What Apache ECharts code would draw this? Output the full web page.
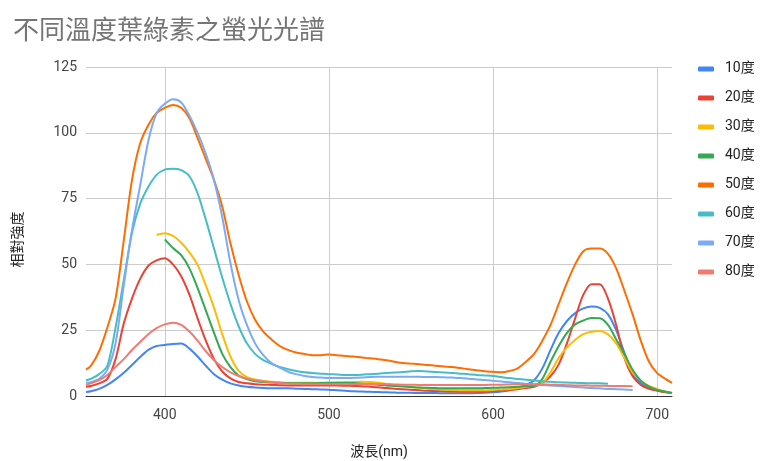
<!DOCTYPE html>
<html>
<head>
<meta charset="utf-8">
<script src="https://cdn.jsdelivr.net/npm/echarts@6/dist/echarts.min.js"></script>
<style>
  html, body { margin: 0; padding: 0; background: #fff; }
  #chart { width: 762px; height: 461px; }
</style>
</head>
<body>
<div id="chart"></div>
<script>
// 波長 (nm)
const wavelengths = [352, 355, 360, 365, 370, 375, 380, 385, 390, 395,
  400, 405, 410, 415, 420, 425, 430, 435, 440, 445,
  450, 455, 460, 465, 470, 475, 480, 485, 490, 495,
  500, 505, 510, 515, 520, 525, 530, 535, 540, 545,
  550, 555, 560, 565, 570, 575, 580, 585, 590, 595,
  600, 605, 610, 615, 620, 625, 630, 635, 640, 645,
  650, 655, 660, 665, 670, 675, 680, 685, 690, 695,
  700, 705, 709]

const seriesNames = ['10度', '20度', '30度', '40度', '50度', '60度', '70度', '80度']
const xTicks = [400, 500, 600, 700]

const t10 = [1.5, 1.8, 2.7, 4.2, 6.3, 8.8, 11.8, 14.8, 17.5, 19,
  19.4, 19.8, 19.9, 18, 15, 11.5, 8.3, 6.2, 4.8, 4,
  3.5, 3.2, 3, 2.9, 2.9, 2.9, 2.8, 2.7, 2.6, 2.5,
  2.4, 2.2, 2, 1.8, 1.7, 1.6, 1.5, 1.4, 1.3, 1.2,
  1.2, 1.1, 1.1, 1.1, 1, 1, 1, 1, 1.1, 1.2,
  1.4, 1.7, 2.2, 3, 4.2, 6, 10.5, 17.5, 24, 28.5,
  31.5, 33.3, 34, 33.5, 31, 25, 16.5, 8.5, 4.8, 3,
  2.2, 1.5, 1.1]

const t20 = [3.5, 3.8, 4.8, 6.5, 14, 27.5, 37, 44.5, 49.5, 51.5,
  52.3, 50, 45.5, 38.5, 29.5, 21, 14, 9.3, 6.7, 5.3,
  4.8, 4.5, 4.3, 4.2, 4.1, 4, 4, 4, 4, 4,
  4, 4, 3.9, 3.8, 3.7, 3.5, 3.3, 3, 2.8, 2.6,
  2.4, 2.2, 2, 1.9, 1.8, 1.7, 1.6, 1.6, 1.6, 1.6,
  1.8, 2, 2.3, 2.6, 3, 3.5, 5, 7.5, 12, 20,
  29.5, 38.5, 42.5, 42.5, 37, 27, 14.5, 7.5, 4.2, 2.7,
  2, 1.4, 1.1]

const t30 = [null, null, null, null, null, null, null, null, null, 61.2,
  61.8, 60.8, 58.2, 54.6, 49.8, 42, 33.5, 23.5, 15, 9.5,
  7.2, 6.3, 5.8, 5.4, 5.2, 5, 5, 5, 5, 5,
  5, 5.1, 5.2, 5.3, 5.4, 5.3, 5, 4.6, 4.2, 3.8,
  3.4, 3.1, 2.8, 2.6, 2.4, 2.3, 2.2, 2.2, 2.2, 2.2,
  2.3, 2.5, 2.7, 3, 3.5, 4.2, 5, 9, 14.5, 18.5,
  21.3, 23.5, 24.4, 24.7, 23.4, 20, 14.5, 9, 5.8, 3.8,
  2.6, 1.7, 1.1]

const t40 = [null, null, null, null, null, null, null, null, null, null,
  59.5, 56.2, 53.5, 48.5, 41, 32.5, 24, 16, 11, 7.8,
  6.4, 5.6, 5.3, 5.1, 5, 4.9, 4.8, 4.8, 4.8, 4.9,
  5, 5, 5, 4.9, 4.7, 4.5, 4.3, 4, 3.8, 3.6,
  3.4, 3.2, 3.1, 3, 2.9, 2.9, 2.9, 2.9, 2.9, 3,
  3.1, 3.2, 3.3, 3.5, 3.8, 3.8, 6.5, 13, 19, 24,
  27.2, 28.7, 29.6, 29.5, 27, 21.5, 16, 10, 5.8, 3.6,
  2.3, 1.6, 1.1]

const t50 = [10, 11.5, 17, 26, 37, 59, 82, 96, 103, 107.5,
  109.5, 110.6, 109.5, 105.5, 98, 90, 82, 72, 58, 46,
  36, 29, 24.5, 21.5, 19, 17.5, 16.5, 16, 15.5, 15.5,
  15.8, 15.5, 15.2, 15, 14.6, 14.3, 14, 13.6, 13, 12.5,
  12.3, 12.1, 11.8, 11.5, 11.2, 11, 10.6, 10.2, 9.8, 9.4,
  9.2, 9, 9.5, 10.5, 13, 16, 21, 27, 35, 43,
  50, 55, 56, 56, 54, 48.5, 40, 31, 21, 13,
  8.7, 6.5, 5]

const t60 = [6, 6.5, 8.3, 11.5, 26, 44, 62, 73, 79.5, 84,
  86, 86.3, 85.8, 83.5, 77, 67, 56, 45, 35, 26.5,
  20, 16, 13.6, 12.2, 11, 10.2, 9.5, 9, 8.7, 8.5,
  8.3, 8.2, 8, 8, 8.1, 8.3, 8.5, 8.7, 8.9, 9.1,
  9.4, 9.5, 9.3, 9.1, 8.9, 8.7, 8.5, 8.3, 8, 7.8,
  7.6, 7.2, 6.8, 6.5, 6.2, 5.9, 5.6, 5.4, 5.2, 5.1,
  5, 4.9, 4.8, 4.8, 4.7, null, null, null, null, null,
  null, null, null]

const t70 = [5, 5.2, 6.5, 10, 20, 42, 63, 80, 97, 107.5,
  111, 112.7, 111.5, 106.5, 100, 92, 82, 68, 50.5, 36.5,
  27, 20, 15.5, 12.5, 10.8, 9.2, 8.3, 7.6, 7.2, 7,
  6.8, 6.8, 6.8, 6.9, 7, 7.2, 7.3, 7.3, 7.3, 7.3,
  7.3, 7.3, 7.2, 7.2, 7.1, 7, 6.8, 6.6, 6.3, 6.1,
  5.8, 5.5, 5.2, 4.9, 4.6, 4.4, 4.2, 4, 3.8, 3.6,
  3.4, 3.2, 3, 2.9, 2.7, 2.6, 2.5, 2.3, null, null,
  null, null, null]

const t80 = [4.3, 4.8, 6, 8, 11, 14, 17.5, 20.5, 23.5, 25.8,
  27.2, 27.8, 27, 24.5, 21, 17, 13.6, 11, 9, 7.6,
  6.6, 6, 5.6, 5.2, 4.9, 4.7, 4.6, 4.5, 4.5, 4.5,
  4.5, 4.5, 4.5, 4.5, 4.6, 4.6, 4.6, 4.5, 4.4, 4.3,
  4.3, 4.2, 4.2, 4.2, 4.2, 4.2, 4.2, 4.2, 4.2, 4.2,
  4.3, 4.3, 4.4, 4.5, 4.5, 4.5, 4.4, 4.3, 4.2, 4.1,
  4, 4, 3.9, 3.9, 3.8, 3.8, 3.8, 3.7, null, null,
  null, null, null]

const allValues = [t10, t20, t30, t40, t50, t60, t70, t80]
const colors = ['#4285F4', '#EA4335', '#FBBC04', '#34A853', '#FF6D01', '#46BDC6', '#7BAAF7', '#F07B72']

const font = 'Roboto, "Noto Sans CJK TC", sans-serif'

const chart = echarts.init(document.getElementById('chart'))
const options = {
  color: colors,
  textStyle: { fontFamily: font },
  title: {
    text: '不同溫度葉綠素之螢光光譜',
    left: 8,
    top: 11,
    textStyle: {
      fontFamily: '"Noto Sans CJK TC", sans-serif',
      fontSize: 26,
      fontWeight: 'normal',
      color: '#757575'
    }
  },
  legend: {
    orient: 'vertical',
    left: 693,
    top: 57,
    itemWidth: 16,
    itemHeight: 5,
    itemGap: 15,
    icon: 'roundRect',
    textStyle: { fontSize: 14, color: '#222', fontFamily: font, padding: [0, 0, 0, 6] },
    data: seriesNames
  },
  grid: {
    left: 86,
    right: 90,
    top: 67,
    bottom: 65,
    outerBoundsMode: 'none'
  },
  xAxis: {
    type: 'value',
    min: 352,
    max: 709,
    name: '波長(nm)',
    nameLocation: 'middle',
    nameGap: 50,
    nameTextStyle: { fontSize: 14, color: '#222' },
    axisLine: { lineStyle: { color: '#333' } },
    axisTick: { show: false, customValues: xTicks },
    axisLabel: { customValues: xTicks, fontSize: 14, color: '#444', margin: 13 },
    splitLine: { show: true, lineStyle: { color: '#ccc' } }
  },
  yAxis: {
    type: 'value',
    min: 0,
    max: 125,
    interval: 25,
    name: '相對強度',
    nameLocation: 'middle',
    nameGap: 61,
    nameTextStyle: { fontSize: 14, color: '#222', padding: [0, 16, 0, 0] },
    axisLine: { show: false },
    axisTick: { show: false },
    axisLabel: { fontSize: 14, color: '#444', margin: 9 },
    splitLine: { lineStyle: { color: '#ccc' } }
  },
  series: seriesNames.map((name, i) => ({
    name: name,
    type: 'line',
    showSymbol: false,
    smooth: 0.3,
    lineStyle: { width: 2 },
    emphasis: { disabled: true },
    data: wavelengths
      .map((w, j) => [w, allValues[i][j]])
      .filter(p => p[1] !== null)
  }))
}
chart.setOption(options)
</script>
</body>
</html>
